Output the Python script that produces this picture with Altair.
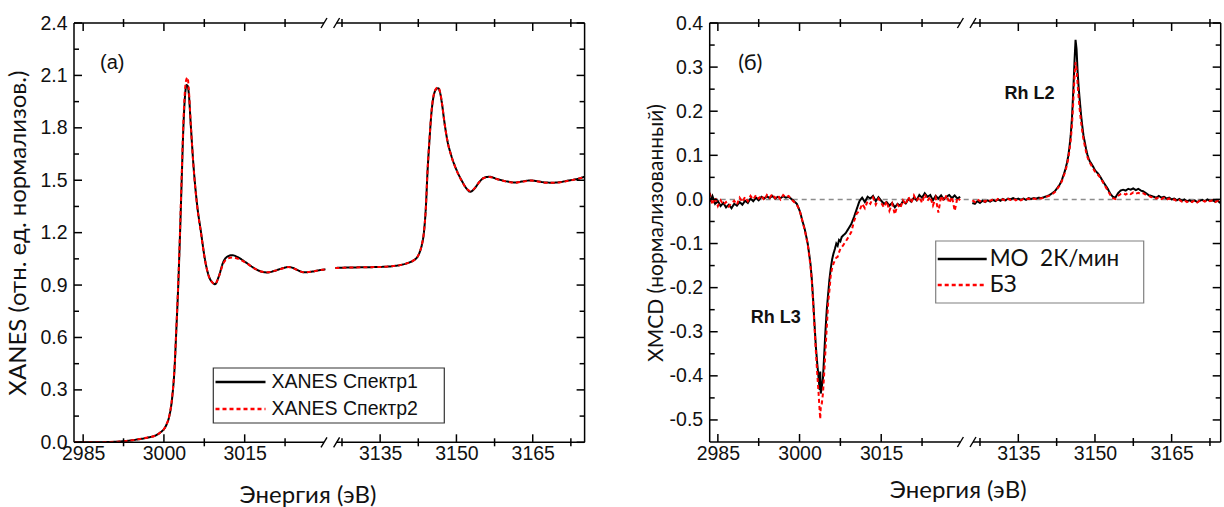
import altair as alt
import pandas as pd

# ---------------- panel (а): XANES ----------------
a_names = ["XANES Спектр1", "XANES Спектр2"]
a_left_E = [2983.4, 2986.0, 2989.0, 2991.0, 2993.0, 2995.0, 2997.0, 2998.5, 2999.5, 3000.0,
            3000.5, 3001.0, 3001.5, 3002.0, 3002.3, 3002.6, 3003.0, 3003.3, 3003.6, 3003.9,
            3004.2, 3004.4, 3004.6, 3005.0, 3005.5, 3006.2, 3006.9, 3007.6, 3008.3, 3009.0,
            3009.5, 3010.2, 3011.0, 3011.9, 3012.7, 3013.8, 3015.2, 3016.7, 3018.0, 3019.2,
            3020.4, 3021.6, 3022.5, 3023.1, 3024.0, 3025.0, 3026.0, 3027.3, 3028.7, 3030.0]
a_left_s1 = [0.000, 0.000, 0.001, 0.003, 0.008, 0.016, 0.027, 0.040, 0.060, 0.075,
             0.103, 0.150, 0.246, 0.437, 0.640, 0.850, 1.200, 1.500, 1.790, 1.975,
             2.045, 2.040, 2.003, 1.810, 1.580, 1.350, 1.200, 1.050, 0.955, 0.915,
             0.905, 0.950, 1.030, 1.065, 1.071, 1.058, 1.030, 0.998, 0.978, 0.972,
             0.980, 0.992, 1.000, 1.004, 0.998, 0.983, 0.973, 0.976, 0.984, 0.990]
a_left_s2 = [0.000, 0.000, 0.001, 0.003, 0.008, 0.016, 0.027, 0.040, 0.060, 0.075,
             0.103, 0.152, 0.250, 0.445, 0.650, 0.865, 1.220, 1.530, 1.820, 2.010,
             2.080, 2.088, 2.030, 1.815, 1.575, 1.345, 1.195, 1.048, 0.953, 0.914,
             0.906, 0.948, 1.022, 1.052, 1.058, 1.050, 1.028, 0.997, 0.978, 0.973,
             0.980, 0.991, 0.999, 1.003, 0.997, 0.982, 0.973, 0.976, 0.984, 0.990]
a_right_E = [3126.2, 3128.0, 3130.0, 3132.0, 3134.0, 3136.0, 3138.0, 3139.5, 3140.5, 3141.5,
             3142.3, 3142.8, 3143.2, 3143.6, 3144.0, 3144.3, 3144.7, 3145.1, 3145.5, 3146.0,
             3146.4, 3146.8, 3147.2, 3147.6, 3148.2, 3149.0, 3150.0, 3151.0, 3152.0, 3152.7,
             3153.5, 3154.5, 3155.5, 3156.5, 3158.0, 3160.0, 3161.5, 3163.0, 3164.5, 3166.0,
             3167.5, 3169.0, 3170.5, 3172.0, 3173.5, 3175.2]
a_right_s1 = [0.998, 1.000, 1.001, 1.002, 1.003, 1.005, 1.010, 1.018, 1.027, 1.040,
              1.060, 1.090, 1.130, 1.200, 1.350, 1.540, 1.730, 1.890, 1.980, 2.020,
              2.027, 2.000, 1.930, 1.840, 1.730, 1.640, 1.560, 1.500, 1.452, 1.434,
              1.450, 1.490, 1.515, 1.520, 1.507, 1.493, 1.487, 1.493, 1.499, 1.494,
              1.487, 1.486, 1.490, 1.498, 1.506, 1.520]
a_right_s2 = [0.997, 0.999, 1.001, 1.002, 1.003, 1.005, 1.010, 1.018, 1.027, 1.040,
              1.060, 1.090, 1.130, 1.200, 1.350, 1.545, 1.735, 1.895, 1.985, 2.025,
              2.032, 2.003, 1.932, 1.840, 1.728, 1.638, 1.558, 1.498, 1.452, 1.438,
              1.452, 1.490, 1.514, 1.519, 1.506, 1.492, 1.486, 1.492, 1.498, 1.493,
              1.486, 1.485, 1.489, 1.497, 1.505, 1.519]

# ---------------- panel (б): XMCD ----------------
b_names = ["МО\u00a0 2К/мин", "БЗ"]
b_left_E = [2983.5, 2984.0, 2984.5, 2985.0, 2985.5, 2986.0, 2986.5, 2987.0, 2987.5, 2988.0,
            2988.5, 2989.0, 2989.5, 2990.0, 2990.5, 2991.0, 2991.5, 2992.0, 2992.5, 2993.0,
            2993.5, 2994.0, 2994.5, 2995.0, 2995.5, 2996.0, 2996.5, 2997.0, 2997.5, 2998.0,
            2998.5, 2999.0, 2999.5,
            3000.0, 3000.25, 3000.5, 3000.75, 3001.0, 3001.25, 3001.5, 3001.75, 3002.0, 3002.25,
            3002.5, 3002.75, 3003.0, 3003.25, 3003.5, 3003.7, 3003.8, 3003.9, 3004.1, 3004.3,
            3004.5, 3004.75, 3005.0, 3005.25, 3005.5, 3005.75, 3006.0, 3006.25, 3006.5, 3006.75,
            3007.0, 3007.25, 3007.5, 3007.75,
            3008.0, 3008.5, 3009.0, 3009.5, 3010.0, 3010.5, 3011.0, 3011.5, 3012.0, 3012.5,
            3013.0, 3013.5, 3014.0, 3014.5, 3015.0, 3015.5, 3016.0, 3016.5, 3017.0, 3017.5,
            3018.0, 3018.5, 3019.0, 3019.5, 3020.0, 3020.5, 3021.0, 3021.5, 3022.0, 3022.5,
            3023.0, 3023.5, 3024.0, 3024.5, 3025.0, 3025.5, 3026.0, 3026.5, 3027.0, 3027.5,
            3028.0, 3028.5, 3029.0, 3029.5]
b_left_s1 = [-0.005, 0.008, -0.010, -0.004, -0.015, -0.008, -0.018, -0.012, -0.020, -0.010,
             -0.014, -0.006, -0.012, -0.003, -0.008, 0.002, -0.004, 0.004, -0.002, 0.006,
             0.002, 0.007, 0.003, 0.008, 0.002, 0.006, 0.003, 0.007, 0.004, 0.006,
             0.001, -0.004, -0.010,
             -0.025, -0.035, -0.048, -0.058, -0.070, -0.085, -0.100, -0.122, -0.145, -0.180,
             -0.228, -0.283, -0.334, -0.372, -0.405, -0.432, -0.390, -0.440, -0.425, -0.405,
             -0.360, -0.300, -0.250, -0.215, -0.180, -0.155, -0.135, -0.122, -0.112, -0.100,
             -0.105, -0.092, -0.095, -0.085,
             -0.082, -0.076, -0.066, -0.056, -0.040, -0.022, -0.004, 0.004, -0.006, 0.006,
             0.002, 0.008, -0.004, 0.005, -0.003, -0.010, -0.006, -0.014, -0.008, -0.018,
             -0.010, -0.014, -0.004, -0.009, 0.001, -0.005, 0.004, -0.002, 0.010, 0.004,
             0.014, 0.006, 0.010, -0.002, 0.008, 0.002, 0.009, 0.000, 0.006, 0.010,
             0.003, 0.009, 0.002, 0.006]
b_left_s2 = [0.015, -0.012, 0.005, -0.015, -0.002, -0.012, -0.006, -0.016, -0.008, -0.003,
             -0.012, 0.004, -0.006, 0.006, -0.004, 0.008, 0.000, 0.010, 0.002, 0.009,
             -0.002, 0.010, 0.004, 0.012, 0.003, 0.009, 0.000, 0.010, 0.005, 0.008,
             0.000, -0.006, -0.012,
             -0.024, -0.036, -0.047, -0.060, -0.072, -0.087, -0.102, -0.125, -0.150, -0.185,
             -0.235, -0.290, -0.345, -0.395, -0.440, -0.480, -0.498, -0.470, -0.462, -0.440,
             -0.400, -0.345, -0.290, -0.235, -0.205, -0.170, -0.155, -0.145, -0.138, -0.132,
             -0.130, -0.120, -0.112, -0.108,
             -0.104, -0.095, -0.085, -0.074, -0.050, -0.032, -0.026, -0.010, -0.020, -0.004,
             -0.010, 0.004, -0.012, 0.002, -0.008, -0.018, -0.004, -0.026, -0.010, -0.034,
             -0.012, -0.020, -0.002, -0.012, 0.006, -0.008, 0.009, -0.004, 0.006, -0.008,
             0.012, -0.003, 0.006, -0.014, 0.004, -0.030, 0.008, -0.004, 0.010, -0.008,
             0.006, -0.026, 0.004, -0.002]
b_right_E = [3126.0, 3126.5, 3127.0, 3127.5, 3128.0, 3128.5, 3129.0, 3129.5, 3130.0, 3130.5,
             3131.0, 3131.5, 3132.0, 3132.5, 3133.0, 3133.5, 3134.0, 3134.5, 3135.0, 3135.5,
             3136.0, 3136.5, 3137.0, 3137.5, 3138.0, 3138.5, 3139.0, 3139.5, 3140.0, 3140.5,
             3141.0, 3141.5,
             3142.0, 3142.25, 3142.5, 3142.75, 3143.0, 3143.25, 3143.5, 3143.75, 3144.0, 3144.25,
             3144.5, 3144.75, 3145.0, 3145.25, 3145.5, 3145.75, 3146.0,
             3146.2, 3146.4, 3146.6, 3146.8,
             3147.0, 3147.25, 3147.5, 3147.75, 3148.0, 3148.25, 3148.5, 3148.75, 3149.0, 3149.25,
             3149.5, 3149.75, 3150.0,
             3150.5, 3151.0, 3151.5, 3152.0, 3152.5, 3153.0, 3153.5, 3154.0, 3154.5, 3155.0,
             3155.5, 3156.0, 3156.5, 3157.0, 3157.5, 3158.0, 3158.5, 3159.0, 3159.5, 3160.0,
             3160.5, 3161.0, 3161.5, 3162.0, 3162.5, 3163.0, 3163.5, 3164.0, 3164.5, 3165.0,
             3165.5, 3166.0, 3166.5, 3167.0, 3167.5, 3168.0, 3168.5, 3169.0, 3169.5, 3170.0,
             3170.5, 3171.0, 3171.5, 3172.0, 3172.5, 3173.0, 3173.5, 3174.0, 3174.5]
b_right_s1 = [-0.008, -0.010, -0.004, -0.008, -0.003, -0.006, -0.002, -0.005, -0.001, -0.004,
              0.000, -0.003, 0.001, -0.002, 0.002, 0.000, 0.003, 0.000, 0.002, -0.001,
              0.002, -0.001, 0.003, 0.001, 0.003, 0.002, 0.004, 0.003, 0.005, 0.007,
              0.009, 0.013,
              0.017, 0.020, 0.024, 0.028, 0.032, 0.037, 0.043, 0.052, 0.060, 0.070,
              0.082, 0.097, 0.118, 0.145, 0.185, 0.245, 0.315,
              0.362, 0.340, 0.290, 0.255,
              0.228, 0.195, 0.168, 0.145, 0.130, 0.115, 0.102, 0.093, 0.086, 0.082,
              0.077, 0.072, 0.066,
              0.060, 0.052, 0.042, 0.033, 0.024, 0.013, 0.006, 0.004, 0.014, 0.020,
              0.022, 0.020, 0.024, 0.022, 0.025, 0.021, 0.024, 0.020, 0.018, 0.014,
              0.010, 0.008, 0.006, 0.004, 0.008, 0.004, 0.006, 0.002, 0.004, 0.000,
              0.002, -0.002, 0.001, -0.003, 0.000, -0.004, -0.002, -0.005, -0.002, -0.006,
              -0.003, -0.001, -0.004, 0.000, -0.003, -0.002, -0.005, -0.003, -0.008]
b_right_s2 = [-0.002, -0.006, 0.000, -0.004, -0.001, -0.005, 0.000, -0.003, -0.001, -0.004,
              0.001, -0.002, 0.000, -0.003, 0.001, -0.001, 0.002, -0.002, 0.001, -0.002,
              0.001, 0.000, 0.002, -0.001, 0.002, 0.001, 0.003, 0.002, 0.004, 0.006,
              0.008, 0.011,
              0.015, 0.018, 0.022, 0.026, 0.030, 0.035, 0.041, 0.049, 0.057, 0.066,
              0.077, 0.091, 0.110, 0.134, 0.168, 0.220, 0.280,
              0.311, 0.295, 0.262, 0.232,
              0.205, 0.178, 0.155, 0.136, 0.122, 0.108, 0.097, 0.089, 0.083, 0.078,
              0.073, 0.068, 0.063,
              0.057, 0.050, 0.040, 0.030, 0.020, 0.010, 0.003, 0.001, 0.008, 0.012,
              0.014, 0.011, 0.015, 0.012, 0.016, 0.013, 0.015, 0.012, 0.014, 0.010,
              0.008, 0.005, 0.006, 0.002, 0.005, 0.001, 0.004, -0.001, 0.002, -0.002,
              0.000, -0.004, -0.001, -0.005, -0.002, -0.006, -0.003, -0.006, -0.002, -0.007,
              -0.003, -0.002, -0.005, -0.001, -0.004, -0.002, -0.006, -0.003, -0.006]

# ---------------- ticks ----------------
x_major_ticks = [2985, 3000, 3015, 3135, 3150, 3165]
x_minor_ticks = [2992.5, 3007.5, 3022.5, 3127.5, 3142.5, 3157.5, 3172.5]
a_y_major = [0.0, 0.3, 0.6, 0.9, 1.2, 1.5, 1.8, 2.1, 2.4]
a_y_minor = [0.15, 0.45, 0.75, 1.05, 1.35, 1.65, 1.95, 2.25]
b_y_major = [-0.5, -0.4, -0.3, -0.2, -0.1, 0.0, 0.1, 0.2, 0.3, 0.4]
b_y_minor = [-0.45, -0.35, -0.25, -0.15, -0.05, 0.05, 0.15, 0.25, 0.35]

for E, s1, s2 in [(a_left_E, a_left_s1, a_left_s2), (a_right_E, a_right_s1, a_right_s2),
                  (b_left_E, b_left_s1, b_left_s2), (b_right_E, b_right_s1, b_right_s2)]:
    assert len(E) == len(s1) == len(s2), (len(E), len(s1), len(s2))


def build_df(segments, names):
    rows = []
    for seg, E, s1, s2 in segments:
        for e, y1, y2 in zip(E, s1, s2):
            rows.append(dict(E=e, v=y1, series=names[0], seg=seg))
            rows.append(dict(E=e, v=y2, series=names[1], seg=seg))
    return pd.DataFrame(rows)


df_a = build_df([("L", a_left_E, a_left_s1, a_left_s2), ("R", a_right_E, a_right_s1, a_right_s2)], a_names)
df_b = build_df([("L", b_left_E, b_left_s1, b_left_s2), ("R", b_right_E, b_right_s1, b_right_s2)], b_names)

TICK_FONT = "Liberation Sans"
TITLE_FONT = "Lato"
INK = "#111111"
COLORS = ["#000000", "#ff0000"]
DASHES = [[1, 0], [4, 3]]


def panel(df, names, xdom, xrng, brk, W, H, ydom, ymaj, ymin, ylab_expr, ytitle, ytitle_size,
          ytitle_x, xtitle_x, xtitle_y, leg, interp, texts, zero_line):
    xs = alt.Scale(domain=xdom, range=xrng, nice=False, zero=False)
    ys = alt.Scale(domain=ydom, nice=False, zero=False)
    xaxis = alt.Axis(values=x_major_ticks, format="d", ticks=True, tickSize=0, tickOpacity=0,
                     domain=False, grid=False,
                     labelFont=TICK_FONT, labelFontSize=19.5, labelColor=INK, labelPadding=2,
                     labelFlush=False, labelOverlap=False,
                     title="Энергия (эВ)", titleFont=TITLE_FONT, titleFontSize=24,
                     titleFontWeight="normal", titleColor=INK, titleX=xtitle_x, titleY=xtitle_y,
                     titleAlign="center", titleBaseline="middle")
    yaxis = alt.Axis(values=ymaj, ticks=False, tickSize=0, domain=False, grid=False,
                     labelExpr=ylab_expr, labelFont=TICK_FONT, labelFontSize=19.5, labelColor=INK,
                     labelPadding=7, labelFlush=False, labelOverlap=False,
                     title=ytitle, titleFont=TITLE_FONT, titleFontSize=ytitle_size,
                     titleFontWeight="normal", titleColor=INK, titleX=ytitle_x, titleY=H / 2,
                     titleAngle=270, titleAlign="center", titleBaseline="middle")
    X = lambda: alt.X("E:Q", scale=xs, axis=xaxis)
    Y = lambda: alt.Y("v:Q", scale=ys, axis=yaxis)

    layers = []
    if zero_line:
        layers.append(alt.Chart(pd.DataFrame({"v": [0.0]})).mark_rule(
            color="#8c8c8c", strokeDash=[5, 4], strokeWidth=1.5).encode(y=Y()))

    for i, name in enumerate(names):
        layers.append(alt.Chart(df).transform_filter(alt.datum.series == name).mark_line(
            strokeWidth=2, interpolate=interp, clip=True, color=COLORS[i],
            strokeDash=DASHES[i]).encode(x=X(), y=Y(), detail="seg:N"))

    # tick marks (inward majors, crossing minors on x; inward minors on y)
    xmaj = pd.DataFrame({"E": x_major_ticks})
    xmin = pd.DataFrame({"E": x_minor_ticks})
    ymj = pd.DataFrame({"v": ymaj})
    ymn = pd.DataFrame({"v": ymin})
    rule = dict(color="black", strokeWidth=1.5)
    for d, y0, y1 in [(xmaj, H - 8, H), (xmaj, 0, 8), (xmin, H - 4, H + 4), (xmin, -4, 4)]:
        layers.append(alt.Chart(d).mark_rule(**rule).encode(x=X(), y=alt.value(y0), y2=alt.value(y1)))
    for d, x0, x1 in [(ymj, 0, 8), (ymj, W - 8, W), (ymn, 0, 5), (ymn, W - 5, W)]:
        layers.append(alt.Chart(d).mark_rule(**rule).encode(y=Y(), x=alt.value(x0), x2=alt.value(x1)))

    # frame with axis break
    one = pd.DataFrame({"k": [0]})
    layers.append(alt.Chart(one).mark_rule(**rule).encode(x=alt.value(0), y=alt.value(0), y2=alt.value(H)))
    layers.append(alt.Chart(one).mark_rule(**rule).encode(x=alt.value(W), y=alt.value(0), y2=alt.value(H)))
    for yy in [0, H]:
        layers.append(alt.Chart(one).mark_rule(x2Offset=-6.3, **rule).encode(
            x=alt.datum(xdom[0]), x2=alt.datum(brk), y=alt.value(yy)))
        layers.append(alt.Chart(one).mark_rule(xOffset=6.3, **rule).encode(
            x=alt.datum(brk), x2=alt.datum(xdom[-1]), y=alt.value(yy)))
        for off in [-6.3, 6.3]:
            layers.append(alt.Chart(one).mark_rule(xOffset=off - 3, x2Offset=off + 3,
                                                   color="black", strokeWidth=1.4).encode(
                x=alt.datum(brk), x2=alt.datum(brk), y=alt.value(yy + 5), y2=alt.value(yy - 5)))

    # annotations
    for (e, v, label, font, size, weight) in texts:
        layers.append(alt.Chart(pd.DataFrame({"E": [e], "v": [v], "t": [label]})).mark_text(
            font=font, fontSize=size, fontWeight=weight, color=INK, align="center",
            baseline="middle").encode(x=X(), y=Y(), text="t:N"))

    # legend box (drawn as marks)
    lx0, ly0, lx1, ly1, border, sym_x0, sym_x1, txt_x, row_y, lfont, lsize = leg
    layers.append(alt.Chart(one).mark_rect(fill="white", stroke=border, strokeWidth=1.2).encode(
        x=alt.value(lx0), x2=alt.value(lx1), y=alt.value(ly0), y2=alt.value(ly1)))
    for i, name in enumerate(names):
        layers.append(alt.Chart(one).mark_rule(color=COLORS[i], strokeDash=DASHES[i], strokeWidth=2.5).encode(
            x=alt.value(sym_x0), x2=alt.value(sym_x1), y=alt.value(row_y[i])))
        layers.append(alt.Chart(pd.DataFrame({"t": [name]})).mark_text(
            font=lfont, fontSize=lsize, color=INK, align="left", baseline="middle").encode(
            x=alt.value(txt_x), y=alt.value(row_y[i]), text="t:N"))

    return alt.layer(*layers).properties(width=W, height=H)


# legend geometry relative to each plot area
leg_a = (139.3, 345, 370.3, 400, "#333333", 141.5, 191.5, 197.5, [359, 386], TICK_FONT, 19.5)
leg_b = (226, 218, 434, 280, "#808080", 228, 277, 280, [236, 262], TITLE_FONT, 22.5)

a_texts = [(2990.4, 2.172, "(а)", TICK_FONT, 20, "normal")]
b_texts = [(2990.97, 0.31, "(б)", TITLE_FONT, 22, "normal"),
           (2995.65, -0.268, "Rh L3", TICK_FONT, 18, "bold"),
           (3137.2, 0.24, "Rh L2", TICK_FONT, 18, "bold")]

pa = panel(df_a, a_names, [2983.3, 3030.9, 3125.2, 3175.2], [0, 256.3, 256.3, 510.6], 3078,
           510.6, 419.3, [0, 2.4], a_y_major, a_y_minor, "format(datum.value, '.1f')",
           "XANES (отн. ед. нормализов.)", 24, -55.7, 233.5, 52.7, leg_a, "monotone",
           a_texts, False)
pb = panel(df_b, b_names, [2983.5, 3030.7, 3124.9, 3174.6], [0, 257, 257, 511], 3078,
           511, 419, [-0.55, 0.4], b_y_major, b_y_minor,
           "replace(format(datum.value, '.1f'), '\u2212', '-')",
           "XMCD (нормализованный)", 21, -53.7, 248, 48, leg_b, "linear",
           b_texts, True)

chart = alt.hconcat(pa, pb, spacing=124.7, bounds="flush").resolve_scale(
    x="independent", y="independent"
).configure_view(stroke=None).properties(
    padding={"left": 6, "top": 13, "right": 0, "bottom": 0}, background="white")

chart.save("out.html", embed_options={"renderer": "svg", "actions": False})
